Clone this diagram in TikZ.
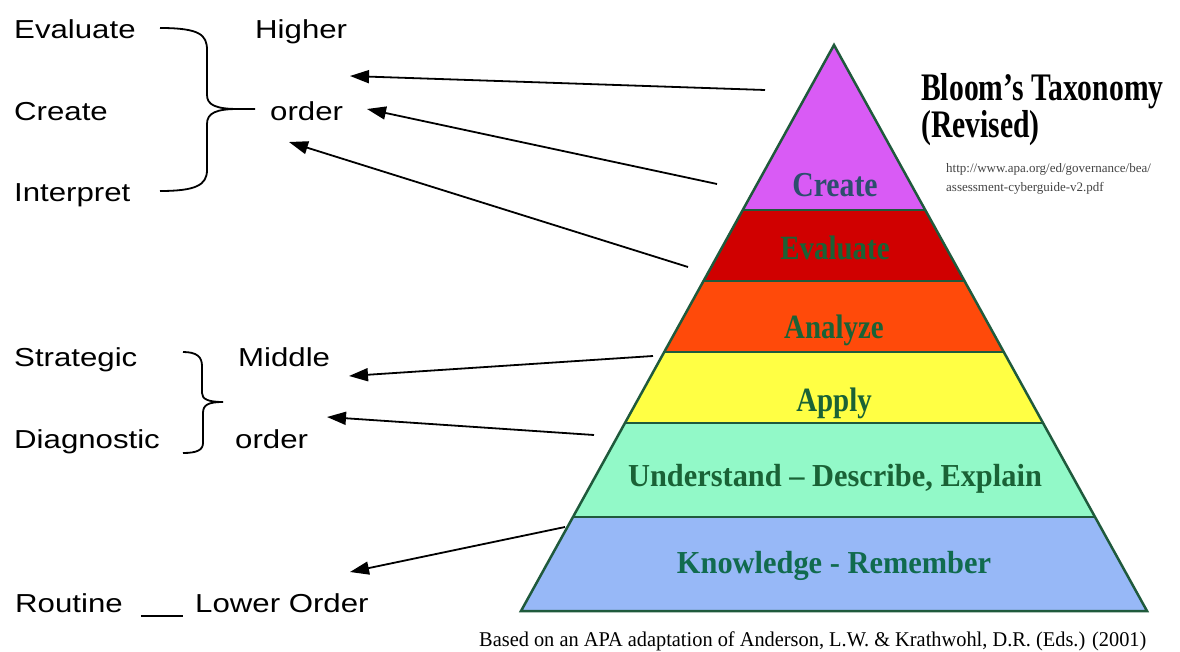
\documentclass[tikz,border=0pt]{standalone}
\usepackage{fontspec}
\usetikzlibrary{arrows.meta,calc}
\newfontfamily\labfont[FakeStretch=1.2]{Liberation Sans}
\newfontfamily\titlefont[FakeStretch=0.76]{Liberation Serif}
\newfontfamily\pyrfont[FakeStretch=0.85]{Liberation Serif}
\newfontfamily\pyrwide[FakeStretch=0.95]{Liberation Serif}
\newfontfamily\notefont{Liberation Serif}
\newfontfamily\capfont[FakeStretch=0.97]{Liberation Serif}
\definecolor{edgegreen}{HTML}{1F5A3C}
\definecolor{textgreen}{HTML}{1A6236}
\definecolor{createtext}{HTML}{2D4E6E}
\definecolor{knowtext}{HTML}{116B4E}
\definecolor{bandcreate}{HTML}{D95BF5}
\definecolor{bandevaluate}{HTML}{D00000}
\definecolor{bandanalyze}{HTML}{FF4A0A}
\definecolor{bandapply}{HTML}{FFFF44}
\definecolor{bandunderstand}{HTML}{92F9C8}
\definecolor{bandknow}{HTML}{97B8F7}
\definecolor{urlgray}{HTML}{444444}
\tikzset{
  lab/.style={anchor=base west,inner sep=0pt,font=\labfont\fontsize{26}{30}\selectfont},
  pyrlab/.style={anchor=base,inner sep=0pt,text=textgreen,font=\pyrfont\bfseries\fontsize{34}{38}\selectfont},
  pyrlabwide/.style={anchor=base,inner sep=0pt,text=textgreen,font=\pyrwide\bfseries\fontsize{32}{36}\selectfont},
  heading/.style={anchor=base west,inner sep=0pt,font=\titlefont\bfseries\fontsize{39}{43}\selectfont},
  urltext/.style={anchor=base west,inner sep=0pt,text=urlgray,font=\notefont\fontsize{13}{15}\selectfont},
  band/.style={draw=edgegreen,line width=2.5pt,line join=miter},
  pointer/.style={line width=1.8pt,-{Triangle[length=19pt,width=13pt]}},
  bracket/.style={line width=1.8pt},
}
\begin{document}
\begin{tikzpicture}[x=1pt,y=-1pt]
\useasboundingbox[fill=white] (0,0) rectangle (1180,652);

% pyramid corners
\coordinate (apex) at (834,45);
\coordinate (bl) at (521,611);
\coordinate (br) at (1147,611);
% band boundaries on the left and right edges
\foreach \n/\t in {1/0.2915,2/0.417,3/0.5424,4/0.6678,5/0.834}{
  \coordinate (l\n) at ($(apex)!\t!(bl)$);
  \coordinate (r\n) at ($(apex)!\t!(br)$);
}
\fill[bandcreate] (apex) -- (l1) -- (r1) -- cycle;
\fill[bandevaluate] (l1) -- (l2) -- (r2) -- (r1) -- cycle;
\fill[bandanalyze] (l2) -- (l3) -- (r3) -- (r2) -- cycle;
\fill[bandapply] (l3) -- (l4) -- (r4) -- (r3) -- cycle;
\fill[bandunderstand] (l4) -- (l5) -- (r5) -- (r4) -- cycle;
\fill[bandknow] (l5) -- (bl) -- (br) -- (r5) -- cycle;
\draw[band] (apex) -- (bl) -- (br) -- cycle;
\foreach \n in {1,...,5}{\draw[band] (l\n) -- (r\n);}

% level names
\node[pyrlab,text=createtext,font=\pyrfont\bfseries\fontsize{35}{38}\selectfont] (pcreate) at (835,197) {Create};
\node[pyrlab] (pevaluate) at (835,260) {Evaluate};
\node[pyrlab] (panalyze) at (834,338) {Analyze};
\node[pyrlab] (papply) at (834,411) {Apply};
\node[pyrlabwide] (punder) at (835,486) {Understand – Describe, Explain};
\node[pyrlabwide,text=knowtext] (pknow) at (834,573) {Knowledge - Remember};

% heading and source
\node[heading,text depth=4pt] (title1) at (921,101) {Bloom’s Taxonomy};
\node[heading,text height=24pt] (title2) at (921,138) {(Revised)};
\node[urltext] (url1) at (946,173) {http://www.apa.org/ed/governance/bea/};
\node[urltext] (url2) at (946,192) {assessment-cyberguide-v2.pdf};
\node[anchor=base west,inner sep=0pt,font=\capfont\fontsize{21}{24}\selectfont] (caption) at (479,646) {Based on an APA adaptation of Anderson, L.W. \& Krathwohl, D.R. (Eds.) (2001)};

% higher order group
\node[lab] (evaluate) at (14,39) {Evaluate};
\node[lab] (create) at (14,121) {Create};
\node[lab] (interpret) at (14,202) {Interpret};
\node[lab] (higher) at (255,39) {Higher};
\node[lab] (horder) at (270,121) {order};
\draw[bracket] (160,28) .. controls (200,28) and (207,35) .. (207,50) -- (207,95)
  .. controls (207,105) and (216,109) .. (238,109) -- (255,109);
\draw[bracket] (238,109) .. controls (216,109) and (207,113) .. (207,124) -- (207,170)
  .. controls (207,185) and (196,191) .. (160,191);

% middle order group
\node[lab] (strategic) at (14,366) {Strategic};
\node[lab] (diagnostic) at (14,448) {Diagnostic};
\node[lab] (middle) at (238,366) {Middle};
\node[lab] (morder) at (235,448) {order};
\draw[bracket] (183,352) .. controls (197,352) and (202,357) .. (202,366) -- (202,393)
  .. controls (202,399) and (208,402) .. (223,402);
\draw[bracket] (223,402) .. controls (208,402) and (203,405) .. (203,413) -- (203,443)
  .. controls (203,450) and (197,453) .. (183,453);

% lower order
\node[lab] (routine) at (15,612) {Routine};
\node[lab] (lower) at (195,612) {Lower Order};
\draw[line width=1.8pt] ($(routine.base east)+(18pt,-4pt)$) coordinate (dashA) -- ($(lower.base west)+(-12pt,-4pt)$) coordinate (dashB);

% pointers from the pyramid levels
\coordinate (s1) at (765,90);   \coordinate (e1) at (350,76);
\coordinate (s2) at (717,184);  \coordinate (e2) at (367,109);
\coordinate (s3) at (688,267);  \coordinate (e3) at (289,142);
\coordinate (s4) at (653,356);  \coordinate (e4) at (349,376);
\coordinate (s5) at (594,435);  \coordinate (e5) at (327,417);
\coordinate (s6) at (565,527);  \coordinate (e6) at (350,572);
\foreach \n in {1,...,6}{\draw[pointer] (s\n) -- (e\n);}
\end{tikzpicture}
\end{document}
